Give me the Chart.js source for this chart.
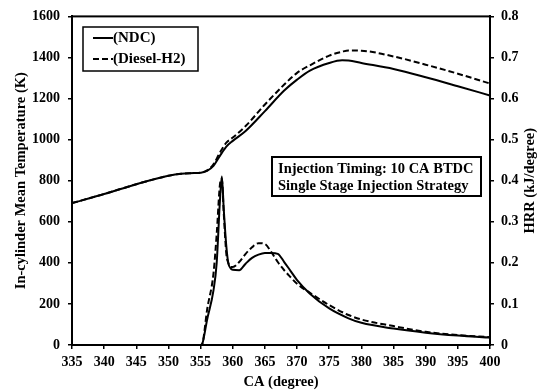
<!DOCTYPE html>
<html>
<head>
<meta charset="utf-8">
<script src="https://cdn.jsdelivr.net/npm/chart.js@4"></script>
<style>
  html, body { margin: 0; padding: 0; background: #fff; }
  #wrap { width: 541px; height: 391px; }
</style>
</head>
<body>
<div id="wrap"><canvas id="chart" width="541" height="391"></canvas></div>
<script>
// crank angle (degree) for the temperature traces
const caTemp = [335, 340, 345, 350, 352, 354, 355, 356, 357, 358, 359, 360, 362, 365, 368, 370, 372, 375, 377, 378, 380, 385, 390, 395, 400];
// in-cylinder mean temperature (K)
const tempNDC = [691, 735, 783, 824, 834, 837, 839, 848, 872, 921, 966, 994, 1042, 1139, 1239, 1292, 1336, 1373, 1386, 1385, 1373, 1344, 1304, 1260, 1215];
const tempH2  = [691, 735, 783, 824, 834, 837, 839, 850, 880, 937, 985, 1010, 1066, 1171, 1268, 1325, 1362, 1409, 1428, 1434, 1433, 1405, 1365, 1321, 1273];

// crank angle (degree) for the heat release traces
const caHrr = [335, 355, 355.3, 356, 357, 357.5, 358, 358.3, 358.6, 359, 359.3, 359.7, 360, 361, 362, 363, 364, 365, 366, 367, 368, 369, 370, 372, 375, 378, 380, 385, 390, 395, 400];
// heat release rate (kJ/degree)
const hrrNDC = [0, 0, 0.005, 0.061, 0.133, 0.2, 0.35, 0.41, 0.33, 0.24, 0.2, 0.186, 0.183, 0.182, 0.198, 0.212, 0.22, 0.224, 0.224, 0.222, 0.202, 0.18, 0.158, 0.125, 0.089, 0.065, 0.054, 0.04, 0.03, 0.023, 0.018];
const hrrH2  = [0, 0, 0.005, 0.085, 0.174, 0.27, 0.39, 0.405, 0.32, 0.222, 0.2, 0.19, 0.19, 0.202, 0.222, 0.238, 0.248, 0.246, 0.226, 0.202, 0.182, 0.165, 0.149, 0.127, 0.097, 0.073, 0.062, 0.046, 0.032, 0.024, 0.019];

const seriesNames = ['(NDC)', '(Diesel-H2)'];
const noteLines = ['Injection Timing: 10 CA BTDC', 'Single Stage Injection Strategy'];

const FONT = "'Liberation Serif', 'Times New Roman', serif";
const DASH = [6, 3];

const pts = (xs, ys) => xs.map((x, i) => ({ x, y: ys[i] }));

function line(label, xs, ys, axis, dashed) {
    return {
        label,
        data: pts(xs, ys),
        yAxisID: axis,
        borderColor: '#000',
        borderWidth: 2,
        borderDash: dashed ? DASH : [],
        pointRadius: 0,
        fill: false,
        cubicInterpolationMode: 'monotone',
    };
}

// frame, legend box, note box and the axis titles
const decorations = {
    id: 'decorations',
    afterDraw(chart) {
        const { ctx, chartArea: a } = chart;
        ctx.save();
        ctx.strokeStyle = '#000';
        ctx.fillStyle = '#000';
        ctx.lineWidth = 2;
        ctx.strokeRect(a.left, a.top, a.right - a.left, a.bottom - a.top);

        ctx.textBaseline = 'middle';
        ctx.font = `bold 15px ${FONT}`;

        // legend
        ctx.lineWidth = 1.5;
        ctx.strokeRect(83, 27, 115, 44);
        ctx.lineWidth = 2;
        [[38, []], [59, DASH]].forEach(([y, dash], i) => {
            ctx.setLineDash(dash);
            ctx.beginPath();
            ctx.moveTo(93, y);
            ctx.lineTo(113, y);
            ctx.stroke();
            ctx.setLineDash([]);
            ctx.textAlign = 'left';
            ctx.fillText(seriesNames[i], 113, y);
        });

        // note
        ctx.font = `bold 14.5px ${FONT}`;
        ctx.strokeRect(272, 157, 209, 39);
        ctx.fillText(noteLines[0], 278, 169);
        ctx.fillText(noteLines[1], 278, 186);

        // axis titles
        ctx.textAlign = 'center';
        ctx.fillText('CA (degree)', (a.left + a.right) / 2, 382);
        const midY = (a.top + a.bottom) / 2;
        [[21, 'In-cylinder Mean Temperature (K)'], [530, 'HRR (kJ/degree)']].forEach(([x, t]) => {
            ctx.save();
            ctx.translate(x, midY);
            ctx.rotate(-Math.PI / 2);
            ctx.fillText(t, 0, 0);
            ctx.restore();
        });
        ctx.restore();
    }
};

const tickFont = { family: FONT, size: 14, weight: 'bold' };
const axisGrid = { drawOnChartArea: false, drawTicks: true, tickLength: 4, color: '#000', lineWidth: 1.5 };
const axisBorder = { display: true, color: '#000', width: 2 };

new Chart(document.getElementById('chart'), {
    type: 'line',
    data: {
        datasets: [
            line(seriesNames[0], caTemp, tempNDC, 'yT', false),
            line(seriesNames[1], caTemp, tempH2, 'yT', true),
            line(seriesNames[0], caHrr, hrrNDC, 'yH', false),
            line(seriesNames[1], caHrr, hrrH2, 'yH', true),
        ]
    },
    options: {
        responsive: false,
        animation: false,
        layout: { padding: { top: 15, left: 0, right: 0, bottom: 0 } },
        plugins: { legend: { display: false }, tooltip: { enabled: false } },
        scales: {
            x: {
                type: 'linear', min: 335, max: 400,
                ticks: { stepSize: 5, color: '#000', font: tickFont, padding: 5, maxRotation: 0,
                    callback: v => String(v) },
                grid: axisGrid, border: axisBorder,
                afterFit: s => { s.height = 46; }
            },
            yT: {
                position: 'left', min: 0, max: 1600,
                ticks: { stepSize: 200, color: '#000', font: tickFont, padding: 8,
                    callback: v => String(v) },
                grid: axisGrid, border: axisBorder,
                afterFit: s => { s.width = 72; }
            },
            yH: {
                position: 'right', min: 0, max: 0.8,
                ticks: { stepSize: 0.1, color: '#000', font: tickFont, padding: 7,
                    callback: v => v === 0 ? '0' : v.toFixed(1) },
                grid: axisGrid, border: axisBorder,
                afterFit: s => { s.width = 51; }
            }
        }
    },
    plugins: [decorations]
});
</script>
</body>
</html>
